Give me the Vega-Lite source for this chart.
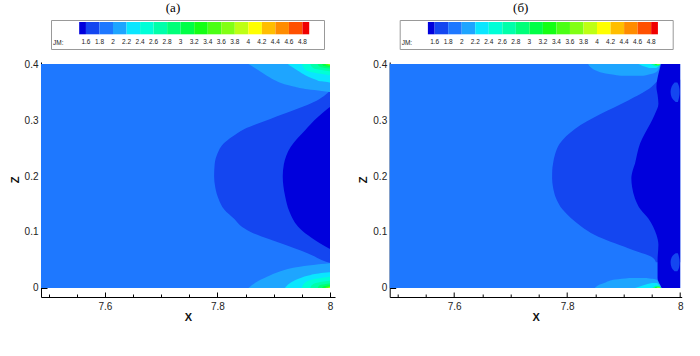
{
"$schema": "https://vega.github.io/schema/vega-lite/v6.json",
"padding": {"left": 9, "top": 1, "right": 5, "bottom": 5},
"background": "white",
"datasets": {
"d": [
{"p":"a","k":0,"r":"bg","v":1.9,"z":0,"x":7.4863,"x2":8},
{"p":"a","k":0,"r":"bg","v":1.9,"z":0.4,"x":7.4863,"x2":8},
{"p":"a","k":1,"r":"mid","v":1.7,"z":0.045,"x":7.999,"x2":8},
{"p":"a","k":1,"r":"mid","v":1.7,"z":0.05,"x":7.985,"x2":8},
{"p":"a","k":1,"r":"mid","v":1.7,"z":0.058,"x":7.969,"x2":8},
{"p":"a","k":1,"r":"mid","v":1.7,"z":0.067,"x":7.948,"x2":8},
{"p":"a","k":1,"r":"mid","v":1.7,"z":0.0756,"x":7.925,"x2":8},
{"p":"a","k":1,"r":"mid","v":1.7,"z":0.088,"x":7.89,"x2":8},
{"p":"a","k":1,"r":"mid","v":1.7,"z":0.1,"x":7.859,"x2":8},
{"p":"a","k":1,"r":"mid","v":1.7,"z":0.112,"x":7.84,"x2":8},
{"p":"a","k":1,"r":"mid","v":1.7,"z":0.123,"x":7.83,"x2":8},
{"p":"a","k":1,"r":"mid","v":1.7,"z":0.14,"x":7.812,"x2":8},
{"p":"a","k":1,"r":"mid","v":1.7,"z":0.159,"x":7.802,"x2":8},
{"p":"a","k":1,"r":"mid","v":1.7,"z":0.18,"x":7.796,"x2":8},
{"p":"a","k":1,"r":"mid","v":1.7,"z":0.2,"x":7.794,"x2":8},
{"p":"a","k":1,"r":"mid","v":1.7,"z":0.221,"x":7.795,"x2":8},
{"p":"a","k":1,"r":"mid","v":1.7,"z":0.24,"x":7.8,"x2":8},
{"p":"a","k":1,"r":"mid","v":1.7,"z":0.257,"x":7.81,"x2":8},
{"p":"a","k":1,"r":"mid","v":1.7,"z":0.27,"x":7.826,"x2":8},
{"p":"a","k":1,"r":"mid","v":1.7,"z":0.284,"x":7.848,"x2":8},
{"p":"a","k":1,"r":"mid","v":1.7,"z":0.302,"x":7.894,"x2":8},
{"p":"a","k":1,"r":"mid","v":1.7,"z":0.32,"x":7.942,"x2":8},
{"p":"a","k":1,"r":"mid","v":1.7,"z":0.335,"x":7.977,"x2":8},
{"p":"a","k":1,"r":"mid","v":1.7,"z":0.345,"x":7.992,"x2":8},
{"p":"a","k":1,"r":"mid","v":1.7,"z":0.352,"x":7.999,"x2":8},
{"p":"a","k":2,"r":"deep","v":1.55,"z":0.07,"x":7.999,"x2":8},
{"p":"a","k":2,"r":"deep","v":1.55,"z":0.08,"x":7.982,"x2":8},
{"p":"a","k":2,"r":"deep","v":1.55,"z":0.094,"x":7.961,"x2":8},
{"p":"a","k":2,"r":"deep","v":1.55,"z":0.11,"x":7.943,"x2":8},
{"p":"a","k":2,"r":"deep","v":1.55,"z":0.136,"x":7.928,"x2":8},
{"p":"a","k":2,"r":"deep","v":1.55,"z":0.165,"x":7.92,"x2":8},
{"p":"a","k":2,"r":"deep","v":1.55,"z":0.2,"x":7.916,"x2":8},
{"p":"a","k":2,"r":"deep","v":1.55,"z":0.221,"x":7.918,"x2":8},
{"p":"a","k":2,"r":"deep","v":1.55,"z":0.252,"x":7.93,"x2":8},
{"p":"a","k":2,"r":"deep","v":1.55,"z":0.281,"x":7.955,"x2":8},
{"p":"a","k":2,"r":"deep","v":1.55,"z":0.305,"x":7.978,"x2":8},
{"p":"a","k":2,"r":"deep","v":1.55,"z":0.323,"x":7.999,"x2":8},
{"p":"a","k":4,"r":"t","v":2.1,"z":0.35,"x":7.999,"x2":8},
{"p":"a","k":4,"r":"t","v":2.1,"z":0.352,"x":7.985,"x2":8},
{"p":"a","k":4,"r":"t","v":2.1,"z":0.355,"x":7.96,"x2":8},
{"p":"a","k":4,"r":"t","v":2.1,"z":0.36,"x":7.935,"x2":8},
{"p":"a","k":4,"r":"t","v":2.1,"z":0.364,"x":7.919,"x2":8},
{"p":"a","k":4,"r":"t","v":2.1,"z":0.372,"x":7.9,"x2":8},
{"p":"a","k":4,"r":"t","v":2.1,"z":0.382,"x":7.883,"x2":8},
{"p":"a","k":4,"r":"t","v":2.1,"z":0.392,"x":7.868,"x2":8},
{"p":"a","k":4,"r":"t","v":2.1,"z":0.4,"x":7.855,"x2":8},
{"p":"a","k":4,"r":"b","v":2.1,"z":0,"x":7.855,"x2":8},
{"p":"a","k":4,"r":"b","v":2.1,"z":0.01,"x":7.868,"x2":8},
{"p":"a","k":4,"r":"b","v":2.1,"z":0.02,"x":7.888,"x2":8},
{"p":"a","k":4,"r":"b","v":2.1,"z":0.03,"x":7.912,"x2":8},
{"p":"a","k":4,"r":"b","v":2.1,"z":0.037,"x":7.94,"x2":8},
{"p":"a","k":4,"r":"b","v":2.1,"z":0.041,"x":7.97,"x2":8},
{"p":"a","k":4,"r":"b","v":2.1,"z":0.044,"x":7.999,"x2":8},
{"p":"a","k":5,"r":"t","v":2.3,"z":0.367,"x":7.999,"x2":8},
{"p":"a","k":5,"r":"t","v":2.3,"z":0.369,"x":7.985,"x2":8},
{"p":"a","k":5,"r":"t","v":2.3,"z":0.373,"x":7.9725,"x2":8},
{"p":"a","k":5,"r":"t","v":2.3,"z":0.38,"x":7.956,"x2":8},
{"p":"a","k":5,"r":"t","v":2.3,"z":0.388,"x":7.943,"x2":8},
{"p":"a","k":5,"r":"t","v":2.3,"z":0.395,"x":7.932,"x2":8},
{"p":"a","k":5,"r":"t","v":2.3,"z":0.4,"x":7.925,"x2":8},
{"p":"a","k":5,"r":"b","v":2.3,"z":0,"x":7.92,"x2":8},
{"p":"a","k":5,"r":"b","v":2.3,"z":0.008,"x":7.928,"x2":8},
{"p":"a","k":5,"r":"b","v":2.3,"z":0.016,"x":7.943,"x2":8},
{"p":"a","k":5,"r":"b","v":2.3,"z":0.022,"x":7.96,"x2":8},
{"p":"a","k":5,"r":"b","v":2.3,"z":0.026,"x":7.98,"x2":8},
{"p":"a","k":5,"r":"b","v":2.3,"z":0.028,"x":7.999,"x2":8},
{"p":"a","k":6,"r":"t","v":2.5,"z":0.38,"x":7.999,"x2":8},
{"p":"a","k":6,"r":"t","v":2.5,"z":0.386,"x":7.9643,"x2":8},
{"p":"a","k":6,"r":"t","v":2.5,"z":0.392,"x":7.9541,"x2":8},
{"p":"a","k":6,"r":"t","v":2.5,"z":0.4,"x":7.95,"x2":8},
{"p":"a","k":6,"r":"b","v":2.5,"z":0,"x":7.95,"x2":8},
{"p":"a","k":6,"r":"b","v":2.5,"z":0.008,"x":7.9541,"x2":8},
{"p":"a","k":6,"r":"b","v":2.5,"z":0.014,"x":7.9643,"x2":8},
{"p":"a","k":6,"r":"b","v":2.5,"z":0.02,"x":7.999,"x2":8},
{"p":"a","k":7,"r":"t","v":2.7,"z":0.387,"x":7.999,"x2":8},
{"p":"a","k":7,"r":"t","v":2.7,"z":0.3909,"x":7.975,"x2":8},
{"p":"a","k":7,"r":"t","v":2.7,"z":0.3948,"x":7.9679,"x2":8},
{"p":"a","k":7,"r":"t","v":2.7,"z":0.4,"x":7.965,"x2":8},
{"p":"a","k":7,"r":"b","v":2.7,"z":0,"x":7.965,"x2":8},
{"p":"a","k":7,"r":"b","v":2.7,"z":0.0052,"x":7.9679,"x2":8},
{"p":"a","k":7,"r":"b","v":2.7,"z":0.0091,"x":7.975,"x2":8},
{"p":"a","k":7,"r":"b","v":2.7,"z":0.013,"x":7.999,"x2":8},
{"p":"a","k":8,"r":"t","v":2.9,"z":0.392,"x":7.999,"x2":8},
{"p":"a","k":8,"r":"t","v":2.9,"z":0.3944,"x":7.9843,"x2":8},
{"p":"a","k":8,"r":"t","v":2.9,"z":0.3968,"x":7.9798,"x2":8},
{"p":"a","k":8,"r":"t","v":2.9,"z":0.4,"x":7.978,"x2":8},
{"p":"a","k":8,"r":"b","v":2.9,"z":0,"x":7.978,"x2":8},
{"p":"a","k":8,"r":"b","v":2.9,"z":0.0032,"x":7.9798,"x2":8},
{"p":"a","k":8,"r":"b","v":2.9,"z":0.0056,"x":7.9843,"x2":8},
{"p":"a","k":8,"r":"b","v":2.9,"z":0.008,"x":7.999,"x2":8},
{"p":"a","k":9,"r":"t","v":3.1,"z":0.395,"x":7.999,"x2":8},
{"p":"a","k":9,"r":"t","v":3.1,"z":0.3965,"x":7.99,"x2":8},
{"p":"a","k":9,"r":"t","v":3.1,"z":0.398,"x":7.9872,"x2":8},
{"p":"a","k":9,"r":"t","v":3.1,"z":0.4,"x":7.986,"x2":8},
{"p":"a","k":9,"r":"b","v":3.1,"z":0,"x":7.986,"x2":8},
{"p":"a","k":9,"r":"b","v":3.1,"z":0.002,"x":7.9872,"x2":8},
{"p":"a","k":9,"r":"b","v":3.1,"z":0.0035,"x":7.99,"x2":8},
{"p":"a","k":9,"r":"b","v":3.1,"z":0.005,"x":7.999,"x2":8},
{"p":"a","k":10,"r":"t","v":3.5,"z":0.397,"x":7.999,"x2":8},
{"p":"a","k":10,"r":"t","v":3.5,"z":0.3979,"x":7.9943,"x2":8},
{"p":"a","k":10,"r":"t","v":3.5,"z":0.3988,"x":7.9927,"x2":8},
{"p":"a","k":10,"r":"t","v":3.5,"z":0.4,"x":7.992,"x2":8},
{"p":"a","k":10,"r":"b","v":3.5,"z":0,"x":7.992,"x2":8},
{"p":"a","k":10,"r":"b","v":3.5,"z":0.0012,"x":7.9927,"x2":8},
{"p":"a","k":10,"r":"b","v":3.5,"z":0.0021,"x":7.9943,"x2":8},
{"p":"a","k":10,"r":"b","v":3.5,"z":0.003,"x":7.999,"x2":8},
{"p":"a","k":11,"r":"t","v":3.9,"z":0.3985,"x":7.999,"x2":8},
{"p":"a","k":11,"r":"t","v":3.9,"z":0.4,"x":7.996,"x2":8},
{"p":"a","k":11,"r":"b","v":3.9,"z":0,"x":7.996,"x2":8},
{"p":"a","k":11,"r":"b","v":3.9,"z":0.0015,"x":7.999,"x2":8},

{"p":"b","k":0,"r":"bg","v":1.9,"z":0,"x":7.486,"x2":8},
{"p":"b","k":0,"r":"bg","v":1.9,"z":0.4,"x":7.486,"x2":8},
{"p":"b","k":1,"r":"mid","v":1.7,"z":0.046,"x":7.957,"x2":8},
{"p":"b","k":1,"r":"mid","v":1.7,"z":0.0533,"x":7.9526,"x2":8},
{"p":"b","k":1,"r":"mid","v":1.7,"z":0.0711,"x":7.908,"x2":8},
{"p":"b","k":1,"r":"mid","v":1.7,"z":0.0948,"x":7.849,"x2":8},
{"p":"b","k":1,"r":"mid","v":1.7,"z":0.11,"x":7.825,"x2":8},
{"p":"b","k":1,"r":"mid","v":1.7,"z":0.1244,"x":7.807,"x2":8},
{"p":"b","k":1,"r":"mid","v":1.7,"z":0.14,"x":7.792,"x2":8},
{"p":"b","k":1,"r":"mid","v":1.7,"z":0.16,"x":7.7805,"x2":8},
{"p":"b","k":1,"r":"mid","v":1.7,"z":0.18,"x":7.775,"x2":8},
{"p":"b","k":1,"r":"mid","v":1.7,"z":0.1956,"x":7.7734,"x2":8},
{"p":"b","k":1,"r":"mid","v":1.7,"z":0.21,"x":7.7736,"x2":8},
{"p":"b","k":1,"r":"mid","v":1.7,"z":0.222,"x":7.775,"x2":8},
{"p":"b","k":1,"r":"mid","v":1.7,"z":0.24,"x":7.779,"x2":8},
{"p":"b","k":1,"r":"mid","v":1.7,"z":0.258,"x":7.787,"x2":8},
{"p":"b","k":1,"r":"mid","v":1.7,"z":0.284,"x":7.8137,"x2":8},
{"p":"b","k":1,"r":"mid","v":1.7,"z":0.311,"x":7.86,"x2":8},
{"p":"b","k":1,"r":"mid","v":1.7,"z":0.335,"x":7.908,"x2":8},
{"p":"b","k":1,"r":"mid","v":1.7,"z":0.359,"x":7.949,"x2":8},
{"p":"b","k":1,"r":"mid","v":1.7,"z":0.368,"x":7.958,"x2":8},
{"p":"b","k":1,"r":"mid","v":1.7,"z":0.372,"x":7.962,"x2":8},
{"p":"b","k":2,"r":"deep","v":1.55,"z":0,"x":7.967,"x2":8},
{"p":"b","k":2,"r":"deep","v":1.55,"z":0.018,"x":7.96,"x2":8},
{"p":"b","k":2,"r":"deep","v":1.55,"z":0.05,"x":7.96,"x2":8},
{"p":"b","k":2,"r":"deep","v":1.55,"z":0.077,"x":7.9615,"x2":8},
{"p":"b","k":2,"r":"deep","v":1.55,"z":0.095,"x":7.958,"x2":8},
{"p":"b","k":2,"r":"deep","v":1.55,"z":0.11,"x":7.952,"x2":8},
{"p":"b","k":2,"r":"deep","v":1.55,"z":0.124,"x":7.9437,"x2":8},
{"p":"b","k":2,"r":"deep","v":1.55,"z":0.14,"x":7.93,"x2":8},
{"p":"b","k":2,"r":"deep","v":1.55,"z":0.16,"x":7.92,"x2":8},
{"p":"b","k":2,"r":"deep","v":1.55,"z":0.18,"x":7.915,"x2":8},
{"p":"b","k":2,"r":"deep","v":1.55,"z":0.196,"x":7.9136,"x2":8},
{"p":"b","k":2,"r":"deep","v":1.55,"z":0.21,"x":7.916,"x2":8},
{"p":"b","k":2,"r":"deep","v":1.55,"z":0.222,"x":7.92,"x2":8},
{"p":"b","k":2,"r":"deep","v":1.55,"z":0.24,"x":7.924,"x2":8},
{"p":"b","k":2,"r":"deep","v":1.55,"z":0.258,"x":7.929,"x2":8},
{"p":"b","k":2,"r":"deep","v":1.55,"z":0.275,"x":7.937,"x2":8},
{"p":"b","k":2,"r":"deep","v":1.55,"z":0.293,"x":7.9468,"x2":8},
{"p":"b","k":2,"r":"deep","v":1.55,"z":0.31,"x":7.955,"x2":8},
{"p":"b","k":2,"r":"deep","v":1.55,"z":0.329,"x":7.9615,"x2":8},
{"p":"b","k":2,"r":"deep","v":1.55,"z":0.345,"x":7.96,"x2":8},
{"p":"b","k":2,"r":"deep","v":1.55,"z":0.359,"x":7.958,"x2":8},
{"p":"b","k":2,"r":"deep","v":1.55,"z":0.382,"x":7.9615,"x2":8},
{"p":"b","k":2,"r":"deep","v":1.55,"z":0.394,"x":7.9645,"x2":8},
{"p":"b","k":2,"r":"deep","v":1.55,"z":0.4,"x":7.966,"x2":8},
{"p":"b","k":3,"r":"s1","v":1.7,"z":0.03,"x":7.99,"x2":7.995},
{"p":"b","k":3,"r":"s1","v":1.7,"z":0.036,"x":7.985,"x2":7.998},
{"p":"b","k":3,"r":"s1","v":1.7,"z":0.046,"x":7.983,"x2":7.999},
{"p":"b","k":3,"r":"s1","v":1.7,"z":0.055,"x":7.985,"x2":7.998},
{"p":"b","k":3,"r":"s1","v":1.7,"z":0.062,"x":7.992,"x2":7.996},
{"p":"b","k":3,"r":"s2","v":1.7,"z":0.332,"x":7.992,"x2":7.996},
{"p":"b","k":3,"r":"s2","v":1.7,"z":0.34,"x":7.985,"x2":7.998},
{"p":"b","k":3,"r":"s2","v":1.7,"z":0.35,"x":7.983,"x2":7.999},
{"p":"b","k":3,"r":"s2","v":1.7,"z":0.36,"x":7.985,"x2":7.998},
{"p":"b","k":3,"r":"s2","v":1.7,"z":0.367,"x":7.99,"x2":7.995},
{"p":"b","k":4,"r":"t","v":2.1,"z":0.379,"x":7.895,"x2":7.935},
{"p":"b","k":4,"r":"t","v":2.1,"z":0.383,"x":7.868,"x2":7.952},
{"p":"b","k":4,"r":"t","v":2.1,"z":0.388,"x":7.852,"x2":7.96},
{"p":"b","k":4,"r":"t","v":2.1,"z":0.394,"x":7.842,"x2":7.963},
{"p":"b","k":4,"r":"t","v":2.1,"z":0.4,"x":7.837,"x2":7.965},
{"p":"b","k":4,"r":"b","v":2.1,"z":0,"x":7.849,"x2":7.967},
{"p":"b","k":4,"r":"b","v":2.1,"z":0.005,"x":7.855,"x2":7.965},
{"p":"b","k":4,"r":"b","v":2.1,"z":0.01,"x":7.868,"x2":7.962},
{"p":"b","k":4,"r":"b","v":2.1,"z":0.015,"x":7.885,"x2":7.958},
{"p":"b","k":4,"r":"b","v":2.1,"z":0.018,"x":7.91,"x2":7.94},
{"p":"b","k":5,"r":"t","v":2.3,"z":0.393,"x":7.945,"x2":7.958},
{"p":"b","k":5,"r":"t","v":2.3,"z":0.396,"x":7.935,"x2":7.962},
{"p":"b","k":5,"r":"t","v":2.3,"z":0.4,"x":7.926,"x2":7.964},
{"p":"b","k":5,"r":"b","v":2.3,"z":0,"x":7.92,"x2":7.966},
{"p":"b","k":5,"r":"b","v":2.3,"z":0.005,"x":7.935,"x2":7.963},
{"p":"b","k":5,"r":"b","v":2.3,"z":0.009,"x":7.95,"x2":7.959},
{"p":"b","k":7,"r":"t","v":2.7,"z":0.396,"x":7.955,"x2":7.962},
{"p":"b","k":7,"r":"t","v":2.7,"z":0.4,"x":7.948,"x2":7.965},
{"p":"b","k":7,"r":"b","v":2.7,"z":0,"x":7.95,"x2":7.966},
{"p":"b","k":7,"r":"b","v":2.7,"z":0.004,"x":7.956,"x2":7.963},
{"p":"b","k":9,"r":"t","v":3.1,"z":0.398,"x":7.957,"x2":7.963},
{"p":"b","k":9,"r":"t","v":3.1,"z":0.4,"x":7.954,"x2":7.965},
{"p":"b","k":9,"r":"b","v":3.1,"z":0,"x":7.954,"x2":7.966},
{"p":"b","k":9,"r":"b","v":3.1,"z":0.002,"x":7.957,"x2":7.964},
{"p":"b","k":11,"r":"t","v":3.9,"z":0.3993,"x":7.9595,"x2":7.9635},
{"p":"b","k":11,"r":"t","v":3.9,"z":0.4,"x":7.958,"x2":7.965},
{"p":"b","k":11,"r":"b","v":3.9,"z":0,"x":7.958,"x2":7.965},
{"p":"b","k":11,"r":"b","v":3.9,"z":0.0008,"x":7.96,"x2":7.964}
]
},
"hconcat": [
{
"width": 294, "height": 235,
"title": {"text": "(a)", "offset": 5, "frame": "group", "dx": -15},
"data": {"name": "d"},
"transform": [{"filter": "datum.p == 'a'"}],
"encoding": {
 "y": {"field": "z", "type": "quantitative", "scale": {"domain": [-0.0161, 0.4036], "nice": false, "zero": false},
   "axis": {"title": "Z", "values": [0,0.02,0.04,0.06,0.08,0.1,0.12,0.14,0.16,0.18,0.2,0.22,0.24,0.26,0.28,0.3,0.32,0.34,0.36,0.38,0.4], "format": "~g",
     "labelExpr": "round(datum.value*100) % 10 == 0 ? datum.label : ''",
     "tickSize": {"condition": {"test": "round(datum.value*100) % 10 == 0", "value": -6}, "value": -3.5}, "labelPadding": 9}},
 "x": {"field": "x", "type": "quantitative", "scale": {"domain": [7.4863, 8.0089], "nice": false, "zero": false},
   "axis": {"title": "X", "titlePadding": -2, "values": [7.5,7.55,7.6,7.65,7.7,7.75,7.8,7.85,7.9,7.95,8], "format": "~g",
     "labelExpr": "round(datum.value*100) % 20 == 0 ? datum.label : ''",
     "tickSize": {"condition": {"test": "round(datum.value*100) % 20 == 0", "value": -5}, "value": -3}, "labelPadding": 9}},
 "x2": {"field": "x2"},
 "detail": {"field": "r"},
 "color": {"field": "v", "type": "quantitative",
   "scale": {"type": "threshold", "domain": [1.5,1.6,1.8,2.0,2.2,2.4,2.6,2.8,3.0,3.2,3.4,3.6,3.8,4.0,4.2,4.4,4.6,4.8,4.9],
     "range": ["rgba(0,0,0,0)","#0000dc","#1446f0","#1e78ff","#1ea5ff","#0ae6ff","#00ffd7","#00ffaa","#00ff78","#00ff46","#14ff14","#4bff14","#82ff14","#beff14","#ffff00","#ffbe00","#ff8c00","#ff5000","#f00000","rgba(0,0,0,0)"]},
   "legend": {"type": "gradient", "direction": "horizontal", "orient": "none", "legendX": 10, "legendY": -42, "title": "JM:", "titleOrient": "left", "titleAnchor": "end", "titleBaseline": "line-top", "titleLineHeight": 22, "titlePadding": 2.4, "gradientLength": 255.6, "gradientThickness": 12.3, "labelOffset": 4.5, "labelOverlap": false, "format": "~g", "labelExpr": "datum.value < 1.55 || datum.value > 4.85 ? '' : datum.label"}}
},
"layer": [
 {"transform": [{"filter": "datum.k == 0"}], "mark": {"type": "area", "orient": "horizontal"}},
 {"transform": [{"filter": "datum.k == 1"}], "mark": {"type": "area", "orient": "horizontal", "interpolate": "monotone"}},
 {"transform": [{"filter": "datum.k == 2"}], "mark": {"type": "area", "orient": "horizontal", "interpolate": "monotone"}},
 {"transform": [{"filter": "datum.k == 4"}], "mark": {"type": "area", "orient": "horizontal", "interpolate": "monotone"}},
 {"transform": [{"filter": "datum.k == 5"}], "mark": {"type": "area", "orient": "horizontal", "interpolate": "monotone"}},
 {"transform": [{"filter": "datum.k == 6"}], "mark": {"type": "area", "orient": "horizontal", "interpolate": "monotone"}},
 {"transform": [{"filter": "datum.k == 7"}], "mark": {"type": "area", "orient": "horizontal", "interpolate": "monotone"}},
 {"transform": [{"filter": "datum.k == 8"}], "mark": {"type": "area", "orient": "horizontal", "interpolate": "monotone"}},
 {"transform": [{"filter": "datum.k == 9"}], "mark": {"type": "area", "orient": "horizontal", "interpolate": "monotone"}},
 {"transform": [{"filter": "datum.k == 10"}], "mark": {"type": "area", "orient": "horizontal", "interpolate": "monotone"}},
 {"transform": [{"filter": "datum.k == 11"}], "mark": {"type": "area", "orient": "horizontal", "interpolate": "monotone"}}
]
},
{
"width": 292, "height": 235,
"title": {"text": "(б)", "offset": 5, "frame": "group", "dx": -15},
"data": {"name": "d"},
"transform": [{"filter": "datum.p == 'b'"}],
"encoding": {
 "y": {"field": "z", "type": "quantitative", "scale": {"domain": [-0.0161, 0.4036], "nice": false, "zero": false},
   "axis": {"title": "Z", "values": [0,0.02,0.04,0.06,0.08,0.1,0.12,0.14,0.16,0.18,0.2,0.22,0.24,0.26,0.28,0.3,0.32,0.34,0.36,0.38,0.4], "format": "~g",
     "labelExpr": "round(datum.value*100) % 10 == 0 ? datum.label : ''",
     "tickSize": {"condition": {"test": "round(datum.value*100) % 10 == 0", "value": -6}, "value": -3.5}, "labelPadding": 9}},
 "x": {"field": "x", "type": "quantitative", "scale": {"domain": [7.486, 8.0027], "nice": false, "zero": false},
   "axis": {"title": "X", "titlePadding": -2, "values": [7.5,7.55,7.6,7.65,7.7,7.75,7.8,7.85,7.9,7.95,8], "format": "~g",
     "labelExpr": "round(datum.value*100) % 20 == 0 ? datum.label : ''",
     "tickSize": {"condition": {"test": "round(datum.value*100) % 20 == 0", "value": -5}, "value": -3}, "labelPadding": 9}},
 "x2": {"field": "x2"},
 "detail": {"field": "r"},
 "color": {"field": "v", "type": "quantitative",
   "scale": {"type": "threshold", "domain": [1.5,1.6,1.8,2.0,2.2,2.4,2.6,2.8,3.0,3.2,3.4,3.6,3.8,4.0,4.2,4.4,4.6,4.8,4.9],
     "range": ["rgba(0,0,0,0)","#0000dc","#1446f0","#1e78ff","#1ea5ff","#0ae6ff","#00ffd7","#00ffaa","#00ff78","#00ff46","#14ff14","#4bff14","#82ff14","#beff14","#ffff00","#ffbe00","#ff8c00","#ff5000","#f00000","rgba(0,0,0,0)"]},
   "legend": {"type": "gradient", "direction": "horizontal", "orient": "none", "legendX": 10, "legendY": -42, "title": "JM:", "titleOrient": "left", "titleAnchor": "end", "titleBaseline": "line-top", "titleLineHeight": 22, "titlePadding": 2.4, "gradientLength": 255.6, "gradientThickness": 12.3, "labelOffset": 4.5, "labelOverlap": false, "format": "~g", "labelExpr": "datum.value < 1.55 || datum.value > 4.85 ? '' : datum.label"}}
},
"layer": [
 {"transform": [{"filter": "datum.k == 0"}], "mark": {"type": "area", "orient": "horizontal"}},
 {"transform": [{"filter": "datum.k == 1"}], "mark": {"type": "area", "orient": "horizontal", "interpolate": "monotone"}},
 {"transform": [{"filter": "datum.k == 2"}], "mark": {"type": "area", "orient": "horizontal", "interpolate": "monotone"}},
 {"transform": [{"filter": "datum.k == 3"}], "mark": {"type": "area", "orient": "horizontal", "interpolate": "monotone"}},
 {"transform": [{"filter": "datum.k == 4"}], "mark": {"type": "area", "orient": "horizontal", "interpolate": "monotone"}},
 {"transform": [{"filter": "datum.k == 5"}], "mark": {"type": "area", "orient": "horizontal", "interpolate": "monotone"}},
 {"transform": [{"filter": "datum.k == 7"}], "mark": {"type": "area", "orient": "horizontal", "interpolate": "monotone"}},
 {"transform": [{"filter": "datum.k == 9"}], "mark": {"type": "area", "orient": "horizontal", "interpolate": "monotone"}},
 {"transform": [{"filter": "datum.k == 11"}], "mark": {"type": "area", "orient": "horizontal", "interpolate": "monotone"}}
]
}
],
"spacing": 54.7,
"bounds": "flush",
"resolve": {"scale": {"color": "independent"}, "legend": {"color": "independent"}},
"config": {
 "view": {"stroke": null},
 "axis": {"grid": false, "domainColor": "#000", "domainWidth": 1, "tickColor": "#000", "tickWidth": 1, "labelFont": "Liberation Sans", "labelFontSize": 10, "labelColor": "#222", "titleFont": "Liberation Sans", "titleFontSize": 11, "titleFontWeight": "bold", "titleColor": "#111", "labelFlush": false, "labelOverlap": false},
 "title": {"font": "Liberation Serif", "fontSize": 13, "fontWeight": "normal", "color": "#000", "anchor": "middle"},
 "legend": {"titleFont": "Liberation Sans", "titleFontSize": 6.5, "titleFontWeight": "normal", "titleColor": "#222", "labelFont": "Liberation Sans", "labelFontSize": 6.5, "labelColor": "#222", "gradientStrokeWidth": 0, "fillColor": "#fff", "strokeColor": "#999", "padding": 2}
}
}
